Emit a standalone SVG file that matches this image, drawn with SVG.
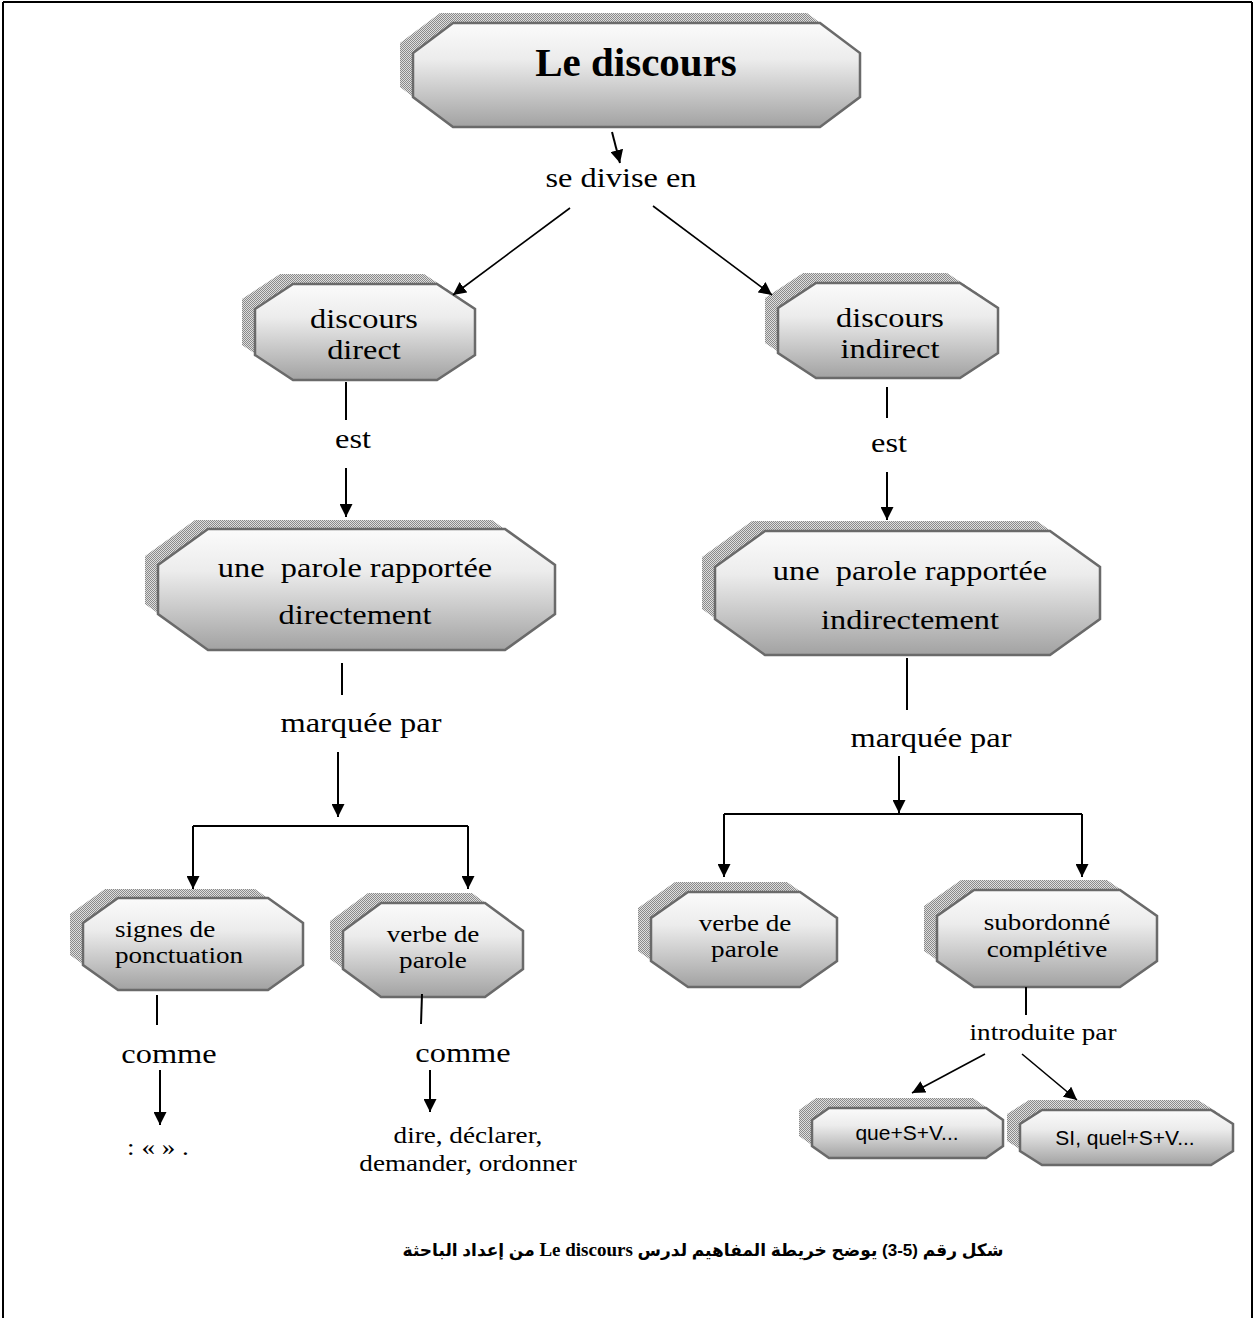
<svg xmlns="http://www.w3.org/2000/svg" width="1255" height="1318" viewBox="0 0 1255 1318">
<defs>
<linearGradient id="g" x1="0" y1="0" x2="0" y2="1">
<stop offset="0" stop-color="#fbfbfb"/>
<stop offset="0.35" stop-color="#ececec"/>
<stop offset="1" stop-color="#a2a2a2"/>
</linearGradient>
<pattern id="hatch" width="2" height="2" patternUnits="userSpaceOnUse">
<rect width="2" height="2" fill="#dedede"/>
<rect width="1" height="1" fill="#8a8a8a"/>
<rect x="1" y="1" width="1" height="1" fill="#8a8a8a"/>
</pattern>
<marker id="ah" markerUnits="userSpaceOnUse" markerWidth="13" markerHeight="13" refX="13" refY="6.5" orient="auto">
<path d="M0,0 L13,6.5 L0,13 z" fill="#000"/>
</marker>
</defs>
<style>
.sh{fill:url(#hatch);stroke:none}
.oc{fill:url(#g);stroke:#6a6a6a;stroke-width:2.5}
.t{font-family:"Liberation Serif","Times New Roman",serif;fill:#000;text-anchor:middle}
.m{font-size:27px}
.n{font-size:23px}
.c{stroke:#000;stroke-width:2;fill:none}
.ca{stroke:#000;stroke-width:2;fill:none;marker-end:url(#ah)}
.th{stroke-width:1.6}
.s{font-family:"Liberation Sans",Arial,sans-serif;fill:#000;text-anchor:middle;font-size:21px}
</style>
<g id="frame" stroke="#000" stroke-width="2" fill="none">
<line x1="3" y1="2" x2="1252" y2="2"/>
<line x1="3" y1="2" x2="3" y2="1318"/>
<line x1="1252" y1="2" x2="1252" y2="1318"/>
</g>

<g id="n1">
<polygon class="sh" points="440,13 807,13 847,43 847,87 807,117 440,117 400,87 400,43"/>
<polygon class="oc" points="453,23 820,23 860,53 860,97 820,127 453,127 413,97 413,53"/>
<text class="t" x="636" y="76" font-size="41" font-weight="bold">Le discours</text>
</g>
<g id="n2">
<polygon class="sh" points="280,274 424,274 462,299 462,345 424,370 280,370 242,345 242,299"/>
<polygon class="oc" points="293,284 437,284 475,309 475,355 437,380 293,380 255,355 255,309"/>
<text class="t m" transform="translate(364,328) scale(1.2,1)">discours</text>
<text class="t m" transform="translate(364,359) scale(1.2,1)">direct</text>
</g>
<g id="n3">
<polygon class="sh" points="803,273 947,273 985,298 985,343 947,368 803,368 765,343 765,298"/>
<polygon class="oc" points="816,283 960,283 998,308 998,353 960,378 816,378 778,353 778,308"/>
<text class="t m" transform="translate(890,327) scale(1.2,1)">discours</text>
<text class="t m" transform="translate(890,358) scale(1.2,1)">indirect</text>
</g>
<g id="n4">
<polygon class="sh" points="195,520 492,520 542,556 542,604 492,640 195,640 145,604 145,556"/>
<polygon class="oc" points="208,529 505,529 555,565 555,614 505,650 208,650 158,614 158,565"/>
<text class="t m" transform="translate(355,577) scale(1.2,1)" xml:space="preserve">une  parole rapportée</text>
<text class="t m" transform="translate(355,624) scale(1.2,1)">directement</text>
</g>
<g id="n5">
<polygon class="sh" points="752,521 1037,521 1087,557 1087,609 1037,645 752,645 702,609 702,557"/>
<polygon class="oc" points="765,531 1050,531 1100,567 1100,619 1050,655 765,655 715,619 715,567"/>
<text class="t m" transform="translate(910,580) scale(1.2,1)" xml:space="preserve">une  parole rapportée</text>
<text class="t m" transform="translate(910,629) scale(1.2,1)">indirectement</text>
</g>
<g id="n6">
<polygon class="sh" points="105,889 255,889 290,914 290,955 255,980 105,980 70,955 70,914"/>
<polygon class="oc" points="118,898 268,898 303,923 303,965 268,990 118,990 83,965 83,923"/>
<text class="t n" transform="translate(115,937) scale(1.18,1)" style="text-anchor:start">signes de</text>
<text class="t n" transform="translate(115,963) scale(1.18,1)" style="text-anchor:start">ponctuation</text>
</g>
<g id="n7">
<polygon class="sh" points="368,893 472,893 510,921 510,959 472,987 368,987 330,959 330,921"/>
<polygon class="oc" points="381,903 485,903 523,931 523,969 485,997 381,997 343,969 343,931"/>
<text class="t n" transform="translate(433,942) scale(1.18,1)">verbe de</text>
<text class="t n" transform="translate(433,968) scale(1.18,1)">parole</text>
</g>
<g id="n8">
<polygon class="sh" points="675,882 787,882 824,908 824,951 787,977 675,977 638,951 638,908"/>
<polygon class="oc" points="688,892 800,892 837,918 837,961 800,987 688,987 651,961 651,918"/>
<text class="t n" transform="translate(745,931) scale(1.18,1)">verbe de</text>
<text class="t n" transform="translate(745,957) scale(1.18,1)">parole</text>
</g>
<g id="n9">
<polygon class="sh" points="961,880 1107,880 1144,906 1144,951 1107,977 961,977 924,951 924,906"/>
<polygon class="oc" points="974,890 1120,890 1157,916 1157,961 1120,987 974,987 937,961 937,916"/>
<text class="t n" transform="translate(1047,930) scale(1.18,1)">subordonné</text>
<text class="t n" transform="translate(1047,957) scale(1.18,1)">complétive</text>
</g>
<g id="n10">
<polygon class="sh" points="816,1098 973,1098 990,1110 990,1136 973,1148 816,1148 799,1136 799,1110"/>
<polygon class="oc" points="829,1108 986,1108 1003,1120 1003,1146 986,1158 829,1158 812,1146 812,1120"/>
<text class="s" x="907" y="1140">que+S+V...</text>
</g>
<g id="n11">
<polygon class="sh" points="1029,1100 1198,1100 1220,1114 1220,1141 1198,1155 1029,1155 1007,1141 1007,1114"/>
<polygon class="oc" points="1042,1110 1211,1110 1233,1124 1233,1151 1211,1165 1042,1165 1020,1151 1020,1124"/>
<text class="s" x="1125" y="1145">SI, quel+S+V...</text>
</g>

<g id="connectors">
<line class="ca" x1="612" y1="132" x2="620" y2="163"/>
<line class="ca th" x1="570" y1="208" x2="453" y2="295"/>
<line class="ca th" x1="653" y1="206" x2="772" y2="295"/>
<line class="c" x1="346" y1="382" x2="346" y2="420"/>
<line class="ca" x1="346" y1="468" x2="346" y2="517"/>
<line class="c" x1="887" y1="387" x2="887" y2="418"/>
<line class="ca" x1="887" y1="472" x2="887" y2="520"/>
<line class="c" x1="342" y1="663" x2="342" y2="695"/>
<line class="ca" x1="338" y1="752" x2="338" y2="817"/>
<line class="c" x1="193" y1="826" x2="468" y2="826"/>
<line class="ca" x1="193" y1="826" x2="193" y2="889"/>
<line class="ca" x1="468" y1="826" x2="468" y2="889"/>
<line class="c" x1="907" y1="658" x2="907" y2="710"/>
<line class="ca" x1="899" y1="756" x2="899" y2="813"/>
<line class="c" x1="724" y1="814" x2="1082" y2="814"/>
<line class="ca" x1="724" y1="814" x2="724" y2="877"/>
<line class="ca" x1="1082" y1="814" x2="1082" y2="877"/>
<line class="c" x1="157" y1="995" x2="157" y2="1025"/>
<line class="ca" x1="160" y1="1070" x2="160" y2="1125"/>
<line class="c" x1="422" y1="994" x2="421" y2="1024"/>
<line class="ca" x1="430" y1="1070" x2="430" y2="1112"/>
<line class="c" x1="1026" y1="987" x2="1026" y2="1015"/>
<line class="ca th" x1="985" y1="1054" x2="912" y2="1093"/>
<line class="ca th" x1="1022" y1="1054" x2="1077" y2="1100"/>
</g>

<g id="labels">
<text class="t m" transform="translate(621,187) scale(1.2,1)">se divise en</text>
<text class="t m" transform="translate(353,448) scale(1.2,1)">est</text>
<text class="t m" transform="translate(889,452) scale(1.2,1)">est</text>
<text class="t m" transform="translate(361,732) scale(1.2,1)">marquée par</text>
<text class="t m" transform="translate(931,747) scale(1.2,1)">marquée par</text>
<text class="t m" transform="translate(169,1063) scale(1.2,1)">comme</text>
<text class="t m" transform="translate(463,1062) scale(1.2,1)">comme</text>
<text class="t n" transform="translate(158,1155) scale(1.18,1)">: « » .</text>
<text class="t n" transform="translate(468,1143) scale(1.18,1)">dire, déclarer,</text>
<text class="t n" transform="translate(468,1171) scale(1.18,1)">demander, ordonner</text>
<text class="t n" transform="translate(1043,1040) scale(1.18,1)">introduite par</text>
</g>

<text x="703" y="1256" direction="rtl" text-anchor="middle" font-family="'Liberation Sans','DejaVu Sans',sans-serif" font-weight="bold" font-size="17">شكل رقم (5-3) يوضح خريطة المفاهيم لدرس  <tspan font-family="'Liberation Serif',serif" font-size="19">Le discours</tspan> من إعداد الباحثة</text>
</svg>
